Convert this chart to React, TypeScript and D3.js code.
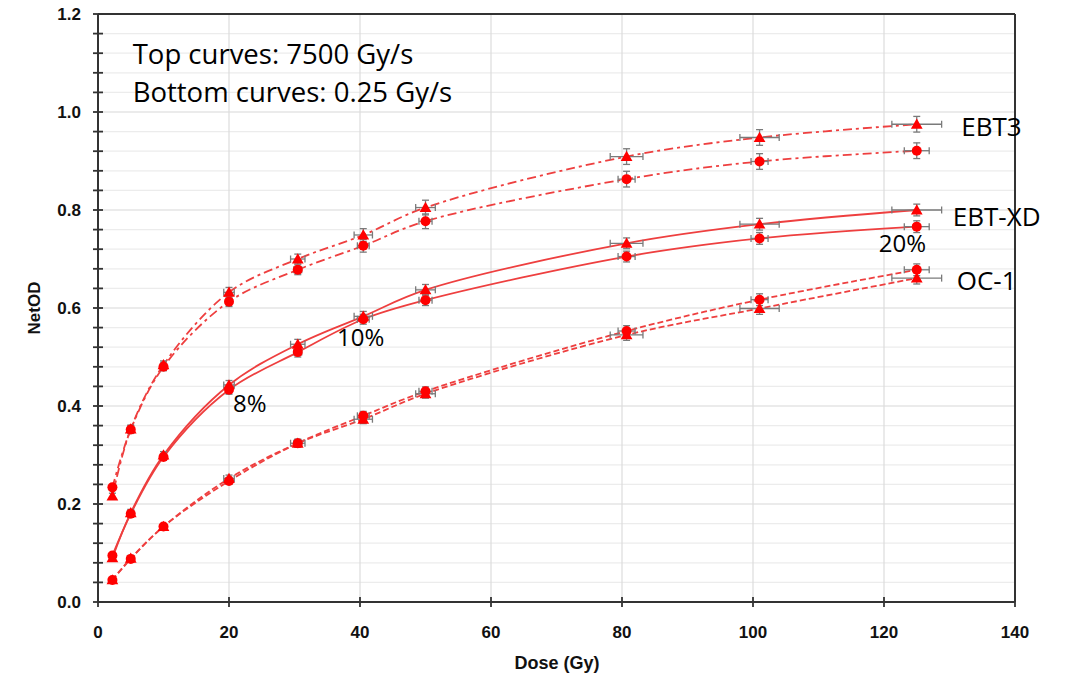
import React from "react";
import * as d3 from "d3";

// ---- Data ----
const doses = [2.2, 5, 10, 20, 30.5, 40.5, 50, 80.7, 101, 125];
const doseErrHigh = [0.1, 0.2, 0.3, 0.8, 1.1, 1.4, 1.5, 2.5, 3.0, 3.8];
const doseErrLow = [0.05, 0.1, 0.2, 0.4, 0.6, 0.9, 1.0, 1.3, 1.3, 1.9];

const ebt3High = [0.216, 0.353, 0.484, 0.632, 0.7, 0.749, 0.805, 0.909, 0.948, 0.975];
const ebt3Low = [0.234, 0.352, 0.48, 0.613, 0.678, 0.727, 0.777, 0.863, 0.899, 0.921];
const xdHigh = [0.09, 0.182, 0.3, 0.443, 0.526, 0.583, 0.637, 0.732, 0.771, 0.8];
const xdLow = [0.095, 0.18, 0.296, 0.433, 0.51, 0.577, 0.616, 0.705, 0.742, 0.766];
const oc1High = [0.045, 0.089, 0.154, 0.252, 0.324, 0.373, 0.425, 0.545, 0.599, 0.661];
const oc1Low = [0.045, 0.088, 0.154, 0.247, 0.324, 0.38, 0.43, 0.553, 0.617, 0.678];

const ebt3Err = [0.006, 0.008, 0.008, 0.01, 0.01, 0.013, 0.015, 0.016, 0.016, 0.016];
const xdErr = [0.006, 0.007, 0.007, 0.009, 0.01, 0.01, 0.011, 0.011, 0.012, 0.012];
const oc1Err = [0.004, 0.006, 0.006, 0.007, 0.008, 0.009, 0.009, 0.011, 0.012, 0.012];

const xTicks = [0, 20, 40, 60, 80, 100, 120, 140];
const yTicks = [0, 0.2, 0.4, 0.6, 0.8, 1.0, 1.2];

const seriesList = [
  { name: "EBT3 7500", values: ebt3High, err: ebt3Err, dErr: doseErrHigh, marker: "triangle", dash: "9,4,3,4" },
  { name: "EBT3 0.25", values: ebt3Low, err: ebt3Err, dErr: doseErrLow, marker: "circle", dash: "9,4,3,4" },
  { name: "EBT-XD 7500", values: xdHigh, err: xdErr, dErr: doseErrHigh, marker: "triangle", dash: "" },
  { name: "EBT-XD 0.25", values: xdLow, err: xdErr, dErr: doseErrLow, marker: "circle", dash: "" },
  { name: "OC-1 7500", values: oc1High, err: oc1Err, dErr: doseErrHigh, marker: "triangle", dash: "6,3" },
  { name: "OC-1 0.25", values: oc1Low, err: oc1Err, dErr: doseErrLow, marker: "circle", dash: "6,3" },
];

const annotations = [
  { text: "Top curves: 7500 Gy/s", x: 5.3, y: 1.097, size: 27.5 },
  { text: "Bottom curves: 0.25 Gy/s", x: 5.3, y: 1.021, size: 27.5 },
  { text: "EBT3", x: 131.8, y: 0.951, size: 26 },
  { text: "EBT-XD", x: 130.5, y: 0.767, size: 26 },
  { text: "OC-1", x: 131.1, y: 0.637, size: 26 },
  { text: "20%", x: 119.2, y: 0.714, size: 24 },
  { text: "10%", x: 36.5, y: 0.522, size: 24 },
  { text: "8%", x: 20.6, y: 0.388, size: 24 },
];

const W = 1069;
const H = 675;

export default function App() {
  const x = d3.scaleLinear().domain([0, 140]).range([98, 1015]);
  const y = d3.scaleLinear().domain([0, 1.2]).range([602, 14]);
  const minorY = d3.range(0, 1.2001, 0.04);
  const line = d3
    .line<number>()
    .x((_, i) => x(doses[i]))
    .y((v) => y(v))
    .curve(d3.curveCatmullRom.alpha(0.5));
  const tri = d3.symbol().type(d3.symbolTriangle).size(60)();
  const lineColor = "#ee3f3f";
  const markColor = "#ff0000";
  const errColor = "#7a7a7a";
  const cap = 3.5;

  return (
    <svg width={W} height={H} style={{ position: "absolute", left: 0, top: 0, background: "#fff" }}>
      <rect x={0} y={0} width={W} height={H} fill="#fff" />
      {/* grid */}
      {minorY.map((t, i) => (
        <line key={"gy" + i} x1={x(0)} x2={x(140)} y1={y(t)} y2={y(t)}
          stroke={i % 5 === 0 ? "#d8d8d8" : "#ececec"} strokeWidth={1.2} />
      ))}
      {xTicks.slice(1, -1).map((t) => (
        <line key={"gx" + t} x1={x(t)} x2={x(t)} y1={y(0)} y2={y(1.2)} stroke="#dcdcdc" strokeWidth={1.2} />
      ))}
      {/* frame */}
      <line x1={x(0)} x2={x(140)} y1={y(1.2)} y2={y(1.2)} stroke="#333" strokeWidth={2} />
      <line x1={x(140)} x2={x(140)} y1={y(0)} y2={y(1.2)} stroke="#333" strokeWidth={2} />
      <line x1={x(0)} x2={x(140)} y1={y(0)} y2={y(0)} stroke="#333" strokeWidth={2} />
      <line x1={x(0)} x2={x(0)} y1={y(0)} y2={y(1.2)} stroke="#333" strokeWidth={2} />
      {/* y ticks */}
      {minorY.map((t, i) => (
        <line key={"ty" + i} x1={x(0) - 5} x2={x(0) + 5} y1={y(t)} y2={y(t)} stroke="#333" strokeWidth={1.8} />
      ))}
      {yTicks.map((t) => (
        <text key={"yl" + t} x={81} y={y(t)} dy="0.36em" textAnchor="end"
          fontFamily="Liberation Sans, Arial, sans-serif" fontWeight="bold" fontSize={17} fill="#111">
          {d3.format(".1f")(t)}
        </text>
      ))}
      {/* x ticks */}
      {xTicks.map((t) => (
        <g key={"tx" + t}>
          <line x1={x(t)} x2={x(t)} y1={y(0) - 5} y2={y(0) + 5} stroke="#333" strokeWidth={1.8} />
          <text x={x(t)} y={637.5} textAnchor="middle"
            fontFamily="Liberation Sans, Arial, sans-serif" fontWeight="bold" fontSize={17} fill="#111">
            {t}
          </text>
        </g>
      ))}
      {/* axis titles */}
      <text transform="translate(40,308) rotate(-90)" textAnchor="middle"
        fontFamily="Liberation Sans, Arial, sans-serif" fontWeight="bold" fontSize={17} fill="#111">
        NetOD
      </text>
      <text x={557} y={669} textAnchor="middle"
        fontFamily="Liberation Sans, Arial, sans-serif" fontWeight="bold" fontSize={18} fill="#111">
        Dose (Gy)
      </text>
      {/* lines */}
      {seriesList.map((s) => (
        <path key={"l" + s.name} d={line(s.values) || ""} fill="none" stroke={lineColor}
          strokeWidth={1.8} strokeDasharray={s.dash || undefined} />
      ))}
      {/* error bars */}
      {seriesList.map((s) => (
        <g key={"e" + s.name} stroke={errColor} strokeWidth={1.3} fill="none">
          {s.values.map((v, i) => {
            const cx = x(doses[i]);
            const cy = y(v);
            const y1 = y(v + s.err[i]);
            const y2 = y(v - s.err[i]);
            const x1 = x(doses[i] - s.dErr[i]);
            const x2 = x(doses[i] + s.dErr[i]);
            return (
              <g key={i}>
                <line x1={cx} x2={cx} y1={y1} y2={y2} />
                <line x1={cx - cap} x2={cx + cap} y1={y1} y2={y1} />
                <line x1={cx - cap} x2={cx + cap} y1={y2} y2={y2} />
                <line x1={x1} x2={x2} y1={cy} y2={cy} />
                <line x1={x1} x2={x1} y1={cy - cap} y2={cy + cap} />
                <line x1={x2} x2={x2} y1={cy - cap} y2={cy + cap} />
              </g>
            );
          })}
        </g>
      ))}
      {/* markers */}
      {seriesList.map((s) => (
        <g key={"m" + s.name} fill={markColor}>
          {s.values.map((v, i) =>
            s.marker === "circle" ? (
              <circle key={i} cx={x(doses[i])} cy={y(v)} r={5} />
            ) : (
              <path key={i} d={tri || ""} transform={`translate(${x(doses[i])},${y(v) + 1})`} />
            )
          )}
        </g>
      ))}
      {/* annotations */}
      {annotations.map((a) => (
        <text key={a.text} x={x(a.x)} y={y(a.y)} fontFamily="Open Sans, sans-serif" fontSize={a.size} fill="#000">
          {a.text}
        </text>
      ))}
    </svg>
  );
}
